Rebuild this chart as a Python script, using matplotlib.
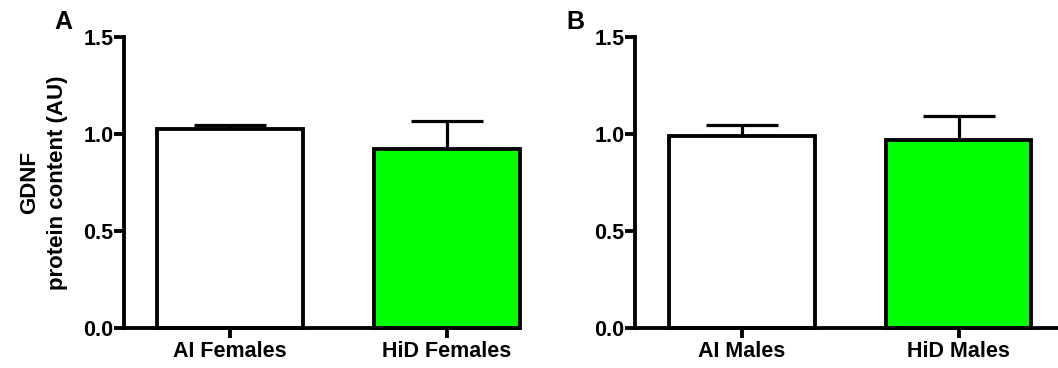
import matplotlib
matplotlib.use('Agg')
from matplotlib import pyplot as plt
import numpy as np

plt.rcParams['font.family'] = ['Liberation Sans', 'DejaVu Sans']
plt.rcParams['font.weight'] = 'bold'

# panel A (hembras) y panel B (machos)
grupos_a = ['AI Females', 'HiD Females']
medias_a = [1.026, 0.923]
sem_a = [0.020, 0.144]

grupos_b = ['AI Males', 'HiD Males']
medias_b = [0.99, 0.969]
sem_b = [0.056, 0.124]

colores = ['white', '#00ff00']

fig = plt.figure(figsize=(10.58, 3.68), dpi=100)
W, H = 1058, 368
axA = fig.add_axes([124 / W, 40 / H, (519 - 124) / W, 291 / H])
axB = fig.add_axes([635 / W, 40 / H, (1058 - 635) / W, 291 / H])

lw = 2.3


def panel(ax, grupos, medias, sem, xlim):
    x = np.arange(len(grupos))
    ax.errorbar(x, medias, yerr=[np.zeros(len(sem)), sem], fmt='none',
                ecolor='black', elinewidth=lw, capsize=26, capthick=lw, zorder=1)
    barras = ax.bar(x, medias, width=0.67, color=colores, edgecolor='black',
                    linewidth=lw * 1.2, zorder=2)
    for b in barras:
        b.set_clip_on(False)
    ax.set_xlim(*xlim)
    ax.set_ylim(0, 1.5)
    ax.set_yticks([0, 0.5, 1.0, 1.5])
    ax.set_yticklabels(['0.0', '0.5', '1.0', '1.5'])
    ax.set_xticks(x)
    ax.set_xticklabels(grupos)
    for s in ['top', 'right']:
        ax.spines[s].set_visible(False)
    for s in ['left', 'bottom']:
        ax.spines[s].set_linewidth(lw * 1.2)
    ax.tick_params(axis='both', width=lw * 1.2, length=7, labelsize=15.5)
    ax.tick_params(axis='y', pad=0.5)
    ax.tick_params(axis='x', pad=2.5)
    for t in ax.get_xticklabels() + ax.get_yticklabels():
        t.set_fontweight('bold')


panel(axA, grupos_a, medias_a, sem_a, (-0.488, 1.332))
panel(axB, grupos_b, medias_b, sem_b, (-0.493, 1.458))

axA.set_ylabel('GDNF\nprotein content (AU)', fontsize=16, fontweight='bold',
               labelpad=11, linespacing=1.45, multialignment='center')

fig.text(54 / W, 1 - 29 / H, 'A', fontsize=18, fontweight='bold')
fig.text(566 / W, 1 - 29 / H, 'B', fontsize=18, fontweight='bold')

fig.savefig('out.png', dpi=100)
